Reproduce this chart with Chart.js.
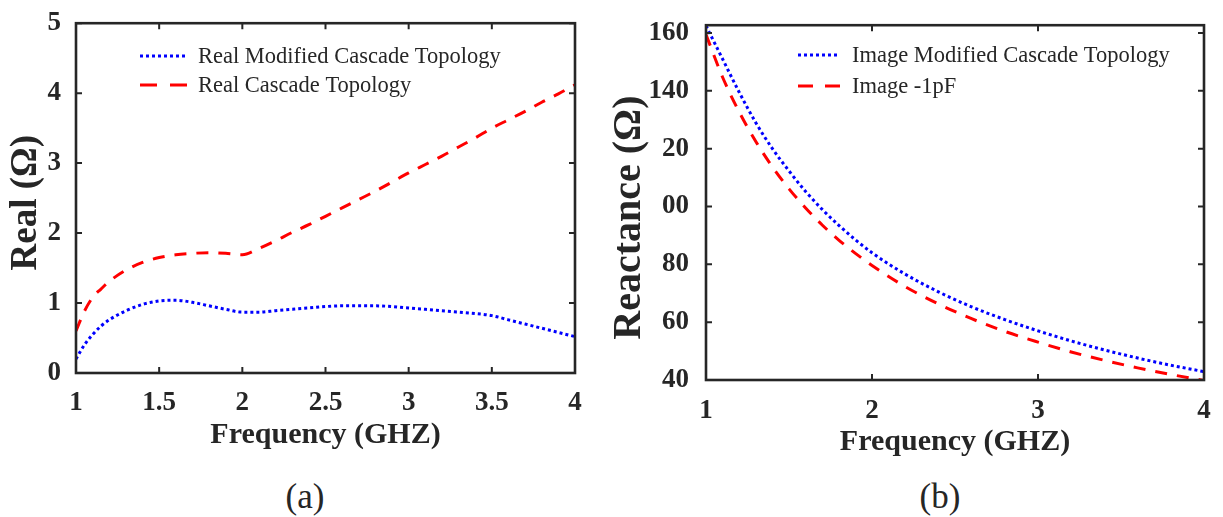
<!DOCTYPE html>
<html>
<head>
<meta charset="utf-8">
<script src="https://cdn.jsdelivr.net/npm/chart.js@4.4.1/dist/chart.umd.min.js"></script>
<style>
  body { margin: 0; background: #fff; width: 1223px; height: 517px; position: relative; overflow: hidden; font-family: "Liberation Serif", serif; }
  .panel { position: absolute; top: 0; height: 470px; }
  #panelA { left: 0; width: 610px; }
  #panelB { left: 610px; width: 613px; }
  .caption { position: absolute; top: 477px; font-size: 35px; line-height: 40px; color: #262626; transform: translateX(-50%); }
</style>
</head>
<body>
<div class="panel" id="panelA"><canvas id="chartA" width="610" height="470"></canvas></div>
<div class="panel" id="panelB"><canvas id="chartB" width="613" height="470"></canvas></div>
<div class="caption" style="left:305px">(a)</div>
<div class="caption" style="left:940px">(b)</div>
<script>
// (a) real part
const freqA = [1.0, 1.05, 1.1, 1.15, 1.2, 1.3, 1.4, 1.5, 1.6, 1.7, 1.8, 1.9, 2.0, 2.1, 2.2, 2.3, 2.4, 2.5, 2.6, 2.7, 2.8, 2.9, 3.0, 3.1, 3.2, 3.3, 3.4, 3.5, 3.6, 3.7, 3.8, 3.9, 4.0];
const realModified = [0.2, 0.4, 0.55, 0.67, 0.76, 0.89, 0.98, 1.03, 1.04, 1.01, 0.96, 0.91, 0.87, 0.87, 0.89, 0.91, 0.93, 0.95, 0.96, 0.96, 0.96, 0.95, 0.93, 0.91, 0.89, 0.87, 0.85, 0.82, 0.76, 0.7, 0.64, 0.58, 0.52];
const realCascade = [0.6, 0.88, 1.08, 1.2, 1.31, 1.47, 1.58, 1.65, 1.69, 1.71, 1.72, 1.71, 1.69, 1.78, 1.89, 2.01, 2.12, 2.24, 2.36, 2.48, 2.6, 2.73, 2.86, 2.98, 3.1, 3.23, 3.36, 3.5, 3.62, 3.74, 3.87, 3.99, 4.12];
const ticksAX = [1, 1.5, 2, 2.5, 3, 3.5, 4];
const ticksAY = [0, 1, 2, 3, 4, 5];

// (b) reactance
const freqB = [1.0, 1.1, 1.2, 1.3, 1.4, 1.5, 1.6, 1.7, 1.8, 1.9, 2.0, 2.2, 2.4, 2.6, 2.8, 3.0, 3.2, 3.4, 3.6, 3.8, 4.0];
const imageModified = [162.5, 151, 139.5, 129, 120, 112.3, 105.2, 99, 93.5, 88.5, 84, 76.6, 70.5, 65.3, 60.9, 57, 53.5, 50.4, 47.6, 45.1, 42.9];
const image1pF = [159.5, 144.7, 132.7, 122.5, 113.7, 106.1, 99.5, 93.6, 88.4, 83.8, 79.6, 72.3, 66.3, 61.2, 56.8, 53.1, 49.7, 46.8, 44.2, 41.9, 39.8];
const ticksBX = [1, 2, 3, 4];
const ticksBY = [40, 60, 80, 100, 120, 140, 160];
const tickLabelsBY = ["40", "60", "80", "00", "20", "140", "160"]; // as printed in the figure

const INK = "#262626";
const BLUE = "#0000ff";
const RED = "#ff0000";
const SERIF = "'Liberation Serif', 'Times New Roman', serif";

function toPoints(xs, ys) {
  return xs.map((x, i) => ({ x, y: ys[i] }));
}

// box around the plot with inward ticks on all four sides (matlab look)
const framePlugin = {
  id: "frame",
  afterDatasetsDraw(chart) {
    const { ctx, chartArea: a, scales } = chart;
    ctx.save();
    ctx.strokeStyle = INK;
    ctx.lineWidth = 2;
    ctx.beginPath();
    scales.x.ticks.forEach((t) => {
      const px = scales.x.getPixelForValue(t.value);
      ctx.moveTo(px, a.bottom); ctx.lineTo(px, a.bottom - 6);
      ctx.moveTo(px, a.top); ctx.lineTo(px, a.top + 6);
    });
    scales.y.ticks.forEach((t) => {
      const py = scales.y.getPixelForValue(t.value);
      ctx.moveTo(a.left, py); ctx.lineTo(a.left + 6, py);
      ctx.moveTo(a.right, py); ctx.lineTo(a.right - 6, py);
    });
    ctx.stroke();
    ctx.lineWidth = 2.6;
    ctx.strokeRect(a.left, a.top, a.right - a.left, a.bottom - a.top);
    ctx.restore();
  },
};

// legend drawn inside the plot, no box
const boxLegend = {
  id: "boxLegend",
  afterDraw(chart, args, opts) {
    const { ctx } = chart;
    ctx.save();
    ctx.font = `22.5px ${SERIF}`;
    ctx.fillStyle = INK;
    ctx.textBaseline = "middle";
    chart.data.datasets.forEach((ds, i) => {
      const y = opts.rows[i];
      ctx.strokeStyle = ds.borderColor;
      ctx.lineWidth = ds.borderWidth;
      ctx.setLineDash(opts.dash[i]);
      ctx.beginPath();
      ctx.moveTo(opts.x, y);
      ctx.lineTo(opts.x + opts.sample, y);
      ctx.stroke();
      ctx.fillText(ds.label, opts.textX, y + 1);
    });
    ctx.restore();
  },
};

function makeChart(el, cfg) {
  return new Chart(el, {
    type: "line",
    data: {
      datasets: [
        {
          label: cfg.names[0],
          data: cfg.series[0],
          borderColor: BLUE,
          borderWidth: 3,
          borderDash: [3, 3],
          pointRadius: 0,
          cubicInterpolationMode: "monotone",
        },
        {
          label: cfg.names[1],
          data: cfg.series[1],
          borderColor: RED,
          borderWidth: 3,
          borderDash: [12, 10],
          pointRadius: 0,
          cubicInterpolationMode: "monotone",
        },
      ],
    },
    options: {
      responsive: false,
      animation: false,
      events: [],
      layout: { padding: cfg.padding },
      plugins: {
        legend: { display: false },
        tooltip: { enabled: false },
        boxLegend: cfg.legend,
      },
      scales: {
        x: {
          type: "linear",
          min: cfg.xRange[0],
          max: cfg.xRange[1],
          afterBuildTicks: (s) => { s.ticks = cfg.xTicks.map((v) => ({ value: v })); },
          afterFit: (s) => { s.height = cfg.xHeight; },
          grid: { display: false },
          border: { display: false },
          ticks: {
            padding: cfg.xTickPad,
            color: INK,
            font: { family: SERIF, size: 27, weight: "bold" },
            callback: (v) => String(v),
          },
          title: {
            display: true,
            text: "Frequency (GHZ)",
            color: INK,
            font: { family: SERIF, size: 30, weight: "bold", lineHeight: 1.2 },
            padding: { bottom: cfg.xTitlePad },
          },
        },
        y: {
          type: "linear",
          min: cfg.yRange[0],
          max: cfg.yRange[1],
          afterBuildTicks: (s) => { s.ticks = cfg.yTicks.map((v) => ({ value: v })); },
          afterFit: (s) => { s.width = cfg.yWidth; },
          grid: { display: false },
          border: { display: false },
          ticks: {
            padding: cfg.yTickPad,
            color: INK,
            font: { family: SERIF, size: 27, weight: "bold" },
            callback: cfg.yLabel,
          },
          title: {
            display: true,
            text: cfg.yTitle,
            color: INK,
            font: { family: SERIF, size: cfg.yTitleSize, weight: "bold", lineHeight: 1 },
            padding: { top: cfg.yTitlePad },
          },
        },
      },
    },
    plugins: [framePlugin, boxLegend],
  });
}

makeChart(document.getElementById("chartA"), {
  names: ["Real Modified Cascade Topology", "Real Cascade Topology"],
  series: [toPoints(freqA, realModified), toPoints(freqA, realCascade)],
  padding: { left: 0, top: 10, right: 35, bottom: 0 },
  xRange: [1, 4],
  yRange: [0, 5],
  xTicks: ticksAX,
  yTicks: ticksAY,
  xHeight: 97,
  yWidth: 76,
  xTickPad: 6,
  yTickPad: 7,
  xTitlePad: 17,
  yTitle: "Real (Ω) ",
  yTitleSize: 37,
  yTitlePad: 8,
  yLabel: (v) => String(v),
  legend: { x: 140, sample: 47, textX: 198, rows: [56, 85], dash: [[3, 3], [17, 13]] },
});

makeChart(document.getElementById("chartB"), {
  names: ["Image Modified Cascade Topology", "Image -1pF"],
  series: [toPoints(freqB, imageModified), toPoints(freqB, image1pF)],
  padding: { left: 0, top: 12, right: 19, bottom: 0 },
  xRange: [1, 4],
  yRange: [40, 162.7],
  xTicks: ticksBX,
  yTicks: ticksBY,
  xHeight: 90,
  yWidth: 96,
  xTickPad: 7,
  yTickPad: 9,
  xTitlePad: 10,
  yTitle: "Reactance (Ω)   ",
  yTitleSize: 40,
  yTitlePad: 0,
  yLabel: (v) => tickLabelsBY[ticksBY.indexOf(v)],
  legend: { x: 188, sample: 42, textX: 242, rows: [55, 86], dash: [[3, 3], [15, 12]] },
});
</script>
</body>
</html>
